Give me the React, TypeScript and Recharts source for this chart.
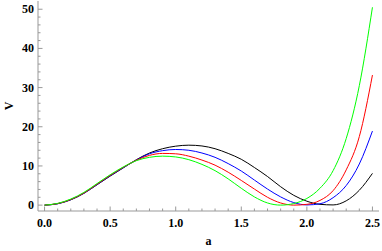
import React from 'react';
import { LineChart, Line, XAxis, YAxis } from 'recharts';

const aValues = [0, 0.1, 0.2, 0.3, 0.4, 0.5, 0.6, 0.7, 0.8, 0.9, 1.0, 1.1, 1.2, 1.3, 1.4, 1.5, 1.6, 1.7, 1.8, 1.9, 2.0, 2.1, 2.2, 2.3, 2.4, 2.5];
const vBlack = [0, 0.35, 1.35, 3.0, 5.2, 7.4, 9.5, 11.6, 13.3, 14.4, 15.05, 15.3, 15.1, 14.4, 13.2, 11.7, 9.6, 7.3, 4.7, 2.5, 1.0, 0.2, 0.05, 1.1, 3.8, 8.1];
const vBlue = [0, 0.37, 1.4, 3.05, 5.25, 7.5, 9.55, 11.5, 13.1, 13.9, 14.2, 14.0, 13.3, 12.2, 10.6, 8.7, 6.4, 4.1, 2.1, 0.65, 0.05, 0.35, 1.9, 5.0, 10.5, 18.9];
const vRed = [0, 0.4, 1.45, 3.1, 5.35, 7.6, 9.65, 11.45, 12.7, 13.2, 13.1, 12.5, 11.5, 10.2, 8.4, 6.3, 4.1, 2.0, 0.55, 0.0, 0.2, 1.2, 3.7, 9.0, 17.5, 33.2];
const vGreen = [0, 0.45, 1.55, 3.25, 5.5, 7.75, 9.75, 11.35, 12.2, 12.5, 12.3, 11.6, 10.4, 8.8, 6.7, 4.3, 2.1, 0.55, 0.0, 0.4, 1.7, 4.3, 8.8, 17.0, 30.5, 50.5];

const xTicks = [0, 0.1, 0.2, 0.3, 0.4, 0.5, 0.6, 0.7, 0.8, 0.9, 1.0, 1.1, 1.2, 1.3, 1.4, 1.5, 1.6, 1.7, 1.8, 1.9, 2.0, 2.1, 2.2, 2.3, 2.4, 2.5];
const xMajor = [0, 0.5, 1.0, 1.5, 2.0, 2.5];
const yTicks = [0, 2, 4, 6, 8, 10, 12, 14, 16, 18, 20, 22, 24, 26, 28, 30, 32, 34, 36, 38, 40, 42, 44, 46, 48, 50];
const yMajor = [0, 10, 20, 30, 40, 50];

const data = aValues.map((a, i) => ({ a, black: vBlack[i], blue: vBlue[i], red: vRed[i], green: vGreen[i] }));

const FRAME = '#999999';
const FONT = "'Liberation Serif', 'DejaVu Serif', 'Times New Roman', serif";
const isMajorX = (v: number) => xMajor.some((m) => Math.abs(m - v) < 1e-6);
const isMajorY = (v: number) => yMajor.some((m) => Math.abs(m - v) < 1e-6);

const BottomTick = (props: any) => {
  const { x, y, payload } = props;
  const major = isMajorX(payload.value);
  return (
    <g>
      <line x1={x} y1={y} x2={x} y2={y - (major ? 4.5 : 2.5)} stroke={FRAME} strokeWidth={1} />
      {major && (
        <text x={x} y={y + 16} textAnchor="middle" fontFamily={FONT} fontWeight="bold" fontSize={12} fill="#000">
          {Number(payload.value).toFixed(1)}
        </text>
      )}
    </g>
  );
};

const TopTick = (props: any) => {
  const { x, y, payload } = props;
  const major = isMajorX(payload.value);
  return <line x1={x} y1={y} x2={x} y2={y + (major ? 4.5 : 2.5)} stroke={FRAME} strokeWidth={1} />;
};

const LeftTick = (props: any) => {
  const { x, y, payload } = props;
  const major = isMajorY(payload.value);
  return (
    <g>
      <line x1={x} y1={y} x2={x + (major ? 4.5 : 2.5)} y2={y} stroke={FRAME} strokeWidth={1} />
      {major && (
        <text x={x - 4} y={y + 4} textAnchor="end" fontFamily={FONT} fontWeight="bold" fontSize={12} fill="#000">
          {String(payload.value)}
        </text>
      )}
    </g>
  );
};

const RightTick = (props: any) => {
  const { x, y, payload } = props;
  const major = isMajorY(payload.value);
  return <line x1={x} y1={y} x2={x - (major ? 4.5 : 2.5)} y2={y} stroke={FRAME} strokeWidth={1} />;
};

const XLabel = (props: any) => {
  const vb = props.viewBox || { x: 38, y: 211, width: 341, height: 40 };
  return (
    <text x={vb.x + vb.width / 2} y={vb.y + vb.height - 6} textAnchor="middle" fontFamily={FONT} fontWeight="bold" fontSize={12} fill="#000">
      a
    </text>
  );
};

const YLabel = (props: any) => {
  const vb = props.viewBox || { x: 0, y: 1, width: 38, height: 210 };
  const cx = vb.x + 9;
  const cy = vb.y + vb.height / 2;
  return (
    <text x={cx} y={cy} transform={`rotate(-90, ${cx}, ${cy})`} textAnchor="middle" dominantBaseline="central" fontFamily={FONT} fontWeight="bold" fontSize={12} fill="#000">
      V
    </text>
  );
};

export default function App() {
  return (
    <div style={{ position: 'absolute', left: 0, top: 0, width: 382, height: 251, background: '#fff' }}>
      <LineChart width={382} height={251} data={data} margin={{ top: 1, right: 3, bottom: 0, left: 0 }}>
        <XAxis
          xAxisId="b"
          dataKey="a"
          type="number"
          orientation="bottom"
          domain={[-0.05, 2.55]}
          allowDataOverflow
          ticks={xTicks}
          interval={0}
          tickSize={0}
          tickMargin={0}
          tickLine={false}
          height={40}
          axisLine={{ stroke: FRAME }}
          tick={<BottomTick />}
          label={{ content: <XLabel /> }}
        />
        <XAxis
          xAxisId="t"
          dataKey="a"
          type="number"
          orientation="top"
          domain={[-0.05, 2.55]}
          allowDataOverflow
          ticks={xTicks}
          interval={0}
          tickSize={0}
          tickMargin={0}
          tickLine={false}
          height={0}
          axisLine={{ stroke: FRAME }}
          tick={<TopTick />}
        />
        <YAxis
          yAxisId="l"
          type="number"
          orientation="left"
          domain={[-1.5, 52.1]}
          allowDataOverflow
          ticks={yTicks}
          interval={0}
          tickSize={0}
          tickMargin={0}
          tickLine={false}
          width={38}
          axisLine={{ stroke: FRAME }}
          tick={<LeftTick />}
          label={{ content: <YLabel /> }}
        />
        <YAxis
          yAxisId="r"
          type="number"
          orientation="right"
          domain={[-1.5, 52.1]}
          allowDataOverflow
          ticks={yTicks}
          interval={0}
          tickSize={0}
          tickMargin={0}
          tickLine={false}
          width={0}
          axisLine={{ stroke: FRAME }}
          tick={<RightTick />}
        />
        <Line xAxisId="b" yAxisId="l" type="monotone" dataKey="black" stroke="#000000" strokeWidth={1} dot={false} isAnimationActive={false} />
        <Line xAxisId="b" yAxisId="l" type="monotone" dataKey="blue" stroke="#0000ff" strokeWidth={1} dot={false} isAnimationActive={false} />
        <Line xAxisId="b" yAxisId="l" type="monotone" dataKey="red" stroke="#ff0000" strokeWidth={1} dot={false} isAnimationActive={false} />
        <Line xAxisId="b" yAxisId="l" type="monotone" dataKey="green" stroke="#00ff00" strokeWidth={1} dot={false} isAnimationActive={false} />
      </LineChart>
    </div>
  );
}
